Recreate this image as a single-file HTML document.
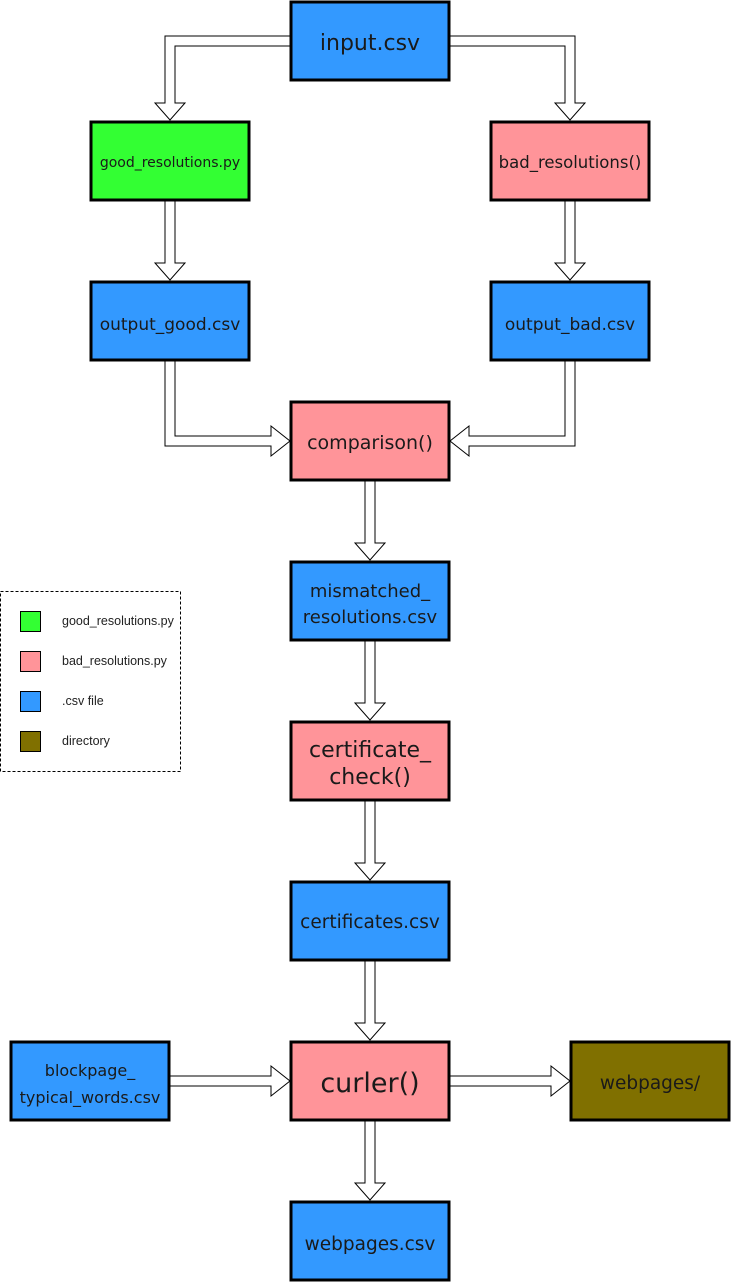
<!DOCTYPE html>
<html><head><meta charset="utf-8"><style>
html,body{margin:0;padding:0;background:#fff;}
svg{display:block;}
text{font-family:"DejaVu Sans",sans-serif;fill:#1a1a1a;text-anchor:middle;}
.b{stroke:#000;stroke-width:3;}
.a{fill:#fff;stroke:#000;stroke-width:1;}
.l{text-anchor:start;font-family:"Liberation Sans",sans-serif;font-size:12.5px;fill:#222;}
</style></head><body>
<svg width="732" height="1283" viewBox="0 0 732 1283" xmlns="http://www.w3.org/2000/svg">
<polygon class="a" points="290,36 165,36 165,103 155,103 170,120 185,103 175,103 175,46 290,46"/>
<polygon class="a" points="450,36 575,36 575,103 585,103 570,120 555,103 565,103 565,46 450,46"/>
<polygon class="a" points="165,200 165,263 155,263 170,280 185,263 175,263 175,200"/>
<polygon class="a" points="565,200 565,263 555,263 570,280 585,263 575,263 575,200"/>
<polygon class="a" points="165,360 165,446 271,446 271,456 290,441 271,426 271,436 175,436 175,360"/>
<polygon class="a" points="575,360 575,446 469,446 469,456 450,441 469,426 469,436 565,436 565,360"/>
<polygon class="a" points="365,480 365,543 355,543 370,560 385,543 375,543 375,480"/>
<polygon class="a" points="365,640 365,703 355,703 370,720 385,703 375,703 375,640"/>
<polygon class="a" points="365,800 365,863 355,863 370,880 385,863 375,863 375,800"/>
<polygon class="a" points="365,960 365,1023 355,1023 370,1040 385,1023 375,1023 375,960"/>
<polygon class="a" points="365,1120 365,1183 355,1183 370,1200 385,1183 375,1183 375,1120"/>
<polygon class="a" points="170,1076 271,1076 271,1066 290,1081 271,1096 271,1086 170,1086"/>
<polygon class="a" points="450,1076 551,1076 551,1066 570,1081 551,1096 551,1086 450,1086"/>
<rect class="b" x="291" y="2" width="158" height="78" fill="#3399ff"/>
<text x="370" y="50" font-size="22">input.csv</text>
<rect class="b" x="91" y="122" width="158" height="78" fill="#33ff33"/>
<text x="170" y="167" font-size="14">good_resolutions.py</text>
<rect class="b" x="491" y="122" width="158" height="78" fill="#ff9499"/>
<text x="570" y="168" font-size="16.5">bad_resolutions()</text>
<rect class="b" x="91" y="282" width="158" height="78" fill="#3399ff"/>
<text x="170" y="330" font-size="17">output_good.csv</text>
<rect class="b" x="491" y="282" width="158" height="78" fill="#3399ff"/>
<text x="570" y="330" font-size="17">output_bad.csv</text>
<rect class="b" x="291" y="402" width="158" height="78" fill="#ff9499"/>
<text x="370" y="449" font-size="19">comparison()</text>
<rect class="b" x="291" y="562" width="158" height="78" fill="#3399ff"/>
<text x="370" y="597" font-size="18">mismatched_</text>
<text x="370" y="623" font-size="18">resolutions.csv</text>
<rect class="b" x="291" y="722" width="158" height="78" fill="#ff9499"/>
<text x="370" y="757" font-size="22">certificate_</text>
<text x="370" y="784" font-size="22">check()</text>
<rect class="b" x="291" y="882" width="158" height="78" fill="#3399ff"/>
<text x="370" y="928" font-size="18.5">certificates.csv</text>
<rect class="b" x="11" y="1042" width="158" height="78" fill="#3399ff"/>
<text x="90" y="1076" font-size="16">blockpage_</text>
<text x="90" y="1103" font-size="16">typical_words.csv</text>
<rect class="b" x="291" y="1042" width="158" height="78" fill="#ff9499"/>
<text x="370" y="1092" font-size="27">curler()</text>
<rect class="b" x="571" y="1042" width="158" height="78" fill="#807000"/>
<text x="650" y="1089" font-size="18.5">webpages/</text>
<rect class="b" x="291" y="1202" width="158" height="78" fill="#3399ff"/>
<text x="370" y="1250" font-size="18.5">webpages.csv</text>
<rect x="0.5" y="591.5" width="180" height="180" fill="#fff" stroke="#000" stroke-width="1" stroke-dasharray="3,2"/>
<rect x="20.5" y="611.5" width="20" height="20" fill="#33ff33" stroke="#000"/>
<rect x="20.5" y="651.5" width="20" height="20" fill="#ff9499" stroke="#000"/>
<rect x="20.5" y="691.5" width="20" height="20" fill="#3399ff" stroke="#000"/>
<rect x="20.5" y="731.5" width="20" height="20" fill="#807000" stroke="#000"/>
<text class="l" x="62" y="625">good_resolutions.py</text>
<text class="l" x="62" y="665">bad_resolutions.py</text>
<text class="l" x="62" y="705">.csv file</text>
<text class="l" x="62" y="745">directory</text>
</svg>
</body></html>
